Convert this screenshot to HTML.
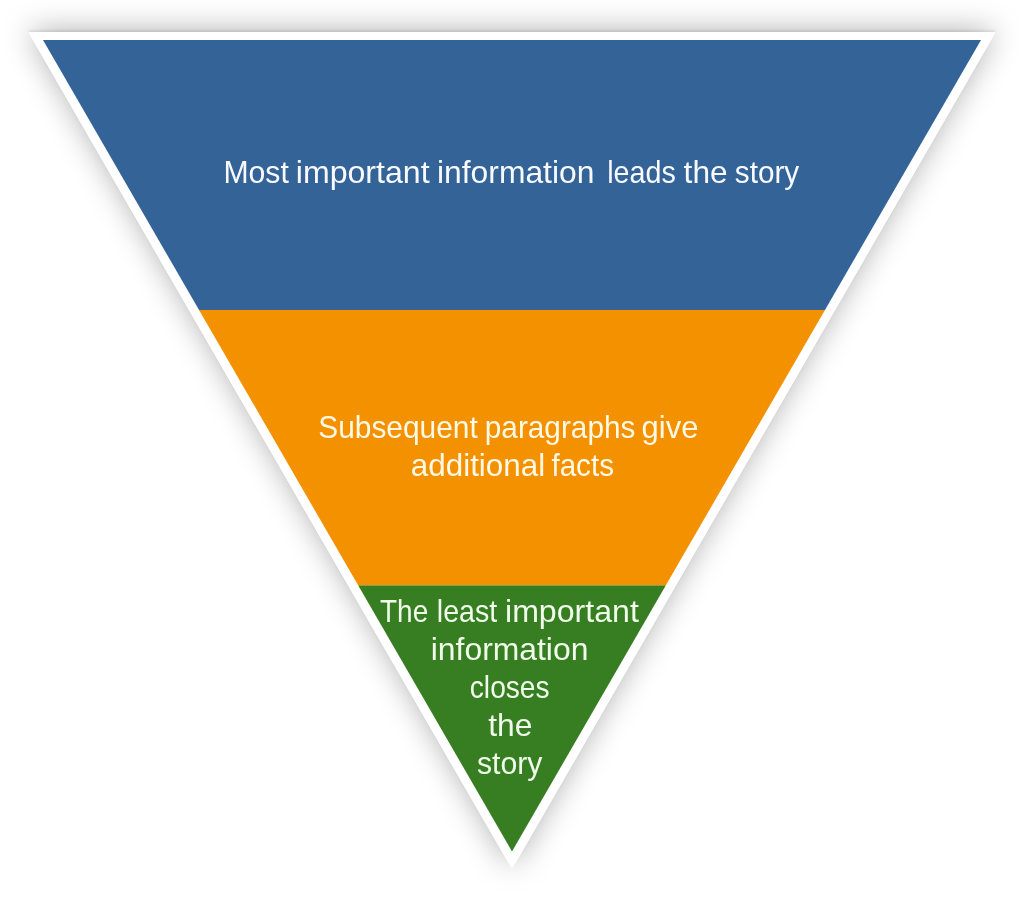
<!DOCTYPE html>
<html>
<head>
<meta charset="utf-8">
<style>
html,body{margin:0;padding:0;background:#fff;width:1024px;height:897px;overflow:hidden;}
svg{display:block;}
text{font-family:"Liberation Sans",sans-serif;font-size:30.5px;white-space:pre;}
</style>
</head>
<body>
<svg width="1024" height="897" viewBox="0 0 1024 897">
  <defs>
    <filter id="sh" x="-20%" y="-20%" width="140%" height="140%">
      <feGaussianBlur stdDeviation="15"/>
    </filter>
    <filter id="sh2" x="-20%" y="-20%" width="140%" height="140%">
      <feGaussianBlur stdDeviation="1.2"/>
    </filter>
    <clipPath id="inner">
      <polygon points="43,40 981,40 512,851.5"/>
    </clipPath>
  </defs>
  <polygon points="29.19,32.00 994.81,32.00 995.41,33.04 513.44,867.00 510.56,867.00 28.59,33.04" fill="#000" fill-opacity="0.31" filter="url(#sh)" transform="translate(0,-1.7)"/>
  <polygon points="29.19,32.00 994.81,32.00 995.41,33.04 513.44,867.00 510.56,867.00 28.59,33.04" fill="#000" fill-opacity="0.09" filter="url(#sh2)" transform="translate(0,-1.7)"/>
  <polygon points="29.19,32.00 994.81,32.00 995.41,33.04 513.44,867.00 510.56,867.00 28.59,33.04" fill="#fff"/>
  <g clip-path="url(#inner)">
    <rect x="0" y="0" width="1024" height="310" fill="#346398"/>
    <rect x="0" y="310" width="1024" height="275.4" fill="#F39100"/>
    <rect x="0" y="585.4" width="1024" height="311.6" fill="#377E22"/>
  </g>
<g opacity="0.999">
  <text x="223.40" y="182.50" textLength="65.40" lengthAdjust="spacingAndGlyphs" fill="#f8faff">Most</text>
  <text x="295.80" y="182.50" textLength="133.80" lengthAdjust="spacingAndGlyphs" fill="#f8faff">important</text>
  <text x="437.00" y="182.50" textLength="157.40" lengthAdjust="spacingAndGlyphs" fill="#f8faff">information</text>
  <text x="607.20" y="182.50" textLength="68.60" lengthAdjust="spacingAndGlyphs" fill="#f8faff">leads</text>
  <text x="683.60" y="182.50" textLength="44.00" lengthAdjust="spacingAndGlyphs" fill="#f8faff">the</text>
  <text x="734.80" y="182.50" textLength="64.40" lengthAdjust="spacingAndGlyphs" fill="#f8faff">story</text>
  <text x="318.20" y="438.40" textLength="159.60" lengthAdjust="spacingAndGlyphs" fill="#fff9e6">Subsequent</text>
  <text x="484.80" y="438.40" textLength="150.60" lengthAdjust="spacingAndGlyphs" fill="#fff9e6">paragraphs</text>
  <text x="641.60" y="438.40" textLength="56.80" lengthAdjust="spacingAndGlyphs" fill="#fff9e6">give</text>
  <text x="410.80" y="476.30" textLength="134.40" lengthAdjust="spacingAndGlyphs" fill="#fff9e6">additional</text>
  <text x="551.40" y="476.30" textLength="62.60" lengthAdjust="spacingAndGlyphs" fill="#fff9e6">facts</text>
  <text x="380.00" y="622.00" textLength="48.20" lengthAdjust="spacingAndGlyphs" fill="#f0fdea">The</text>
  <text x="436.80" y="622.00" textLength="60.40" lengthAdjust="spacingAndGlyphs" fill="#f0fdea">least</text>
  <text x="505.00" y="622.00" textLength="133.80" lengthAdjust="spacingAndGlyphs" fill="#f0fdea">important</text>
  <text x="430.80" y="659.90" textLength="157.60" lengthAdjust="spacingAndGlyphs" fill="#f0fdea">information</text>
  <text x="469.80" y="697.80" textLength="79.80" lengthAdjust="spacingAndGlyphs" fill="#f0fdea">closes</text>
  <text x="488.20" y="736.20" textLength="44.20" lengthAdjust="spacingAndGlyphs" fill="#f0fdea">the</text>
  <text x="477.00" y="774.10" textLength="65.40" lengthAdjust="spacingAndGlyphs" fill="#f0fdea">story</text>
</g>
</svg>
</body>
</html>
